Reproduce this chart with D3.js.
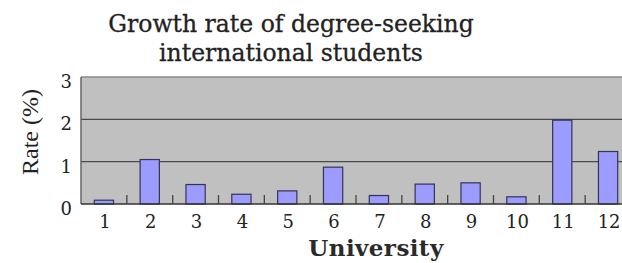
<!DOCTYPE html>
<html>
<head>
<meta charset="utf-8">
<script src="https://cdnjs.cloudflare.com/ajax/libs/d3/7.8.5/d3.min.js"></script>
<style>
  body { margin: 0; background: #fff; }
  svg { display: block; }
</style>
</head>
<body>
<div id="chart"></div>
<script>
// data
var universities = ["1", "2", "3", "4", "5", "6", "7", "8", "9", "10", "11", "12"]
var rates = [0.09, 1.05, 0.46, 0.23, 0.31, 0.87, 0.20, 0.47, 0.50, 0.17, 1.98, 1.24]
var yTicks = [0, 1, 2, 3]

var W = 622, H = 263
// plot area (the right side runs past the window edge, as in the picture)
var mLeft = 81, mTop = 77, plotW = 550, plotH = 127

var svg = d3.select("#chart").append("svg")
  .attr("width", W).attr("height", H)

var xScale = d3.scaleBand().domain(universities).range([mLeft, mLeft + plotW])
var yScale = d3.scaleLinear().domain([0, 3]).range([mTop + plotH, mTop])

// gray background
svg.append("rect")
  .attr("x", mLeft).attr("y", mTop)
  .attr("width", plotW).attr("height", plotH)
  .attr("fill", "#c0c0c0")

// grid lines at 1 and 2, lighter line on top
svg.append("g").selectAll("line").data(yTicks.slice(1)).enter().append("line")
  .attr("x1", mLeft).attr("x2", mLeft + plotW)
  .attr("y1", d => yScale(d)).attr("y2", d => yScale(d))
  .attr("stroke", d => d === 3 ? "#8a8a8a" : "#4a4a4a")
  .attr("stroke-width", d => d === 3 ? 1.5 : 1.3)

// bars
var barW = xScale.bandwidth() * 0.42
svg.append("g").selectAll("rect").data(rates).enter().append("rect")
  .attr("x", (d, i) => xScale(universities[i]) + (xScale.bandwidth() - barW) / 2)
  .attr("y", d => yScale(d))
  .attr("width", barW)
  .attr("height", d => yScale(0) - yScale(d))
  .attr("fill", "#9c9cff")
  .attr("stroke", "#333355")
  .attr("stroke-width", 1.2)

// left axis line
svg.append("line")
  .attr("x1", mLeft).attr("x2", mLeft)
  .attr("y1", mTop).attr("y2", mTop + plotH)
  .attr("stroke", "#666").attr("stroke-width", 1.5)

// bottom axis: line plus small ticks between categories, pointing up
var xAxis = svg.append("g")
  .attr("transform", "translate(0," + (mTop + plotH) + ")")
xAxis.append("line")
  .attr("x1", mLeft).attr("x2", mLeft + plotW)
  .attr("stroke", "#333").attr("stroke-width", 1.5)
xAxis.selectAll(".tk").data(universities.slice(1)).enter().append("line")
  .attr("class", "tk")
  .attr("x1", d => xScale(d)).attr("x2", d => xScale(d))
  .attr("y1", 0).attr("y2", -9)
  .attr("stroke", "#444").attr("stroke-width", 1.3)
xAxis.selectAll("text").data(universities).enter().append("text")
  .attr("x", d => xScale(d) + xScale.bandwidth() / 2 + 1)
  .attr("y", 24)
  .attr("text-anchor", "middle")
  .attr("font-family", "DejaVu Serif")
  .attr("font-size", 18)
  .attr("fill", "#222")
  .text(d => d)

// y tick labels, sitting a little below their grid lines
svg.append("g").selectAll("text").data(yTicks).enter().append("text")
  .attr("x", 72)
  .attr("y", d => yScale(d) + 11)
  .attr("text-anchor", "end")
  .attr("font-family", "DejaVu Serif")
  .attr("font-size", 18)
  .attr("fill", "#222")
  .text(d => d)

// axis titles
svg.append("text")
  .attr("transform", "translate(38,132) rotate(-90)")
  .attr("text-anchor", "middle")
  .attr("font-family", "Liberation Serif")
  .attr("font-size", 24)
  .attr("fill", "#222")
  .text("Rate (%)")

svg.append("text")
  .attr("x", 376).attr("y", 256)
  .attr("text-anchor", "middle")
  .attr("font-family", "DejaVu Serif")
  .attr("font-weight", "bold")
  .attr("font-size", 23)
  .attr("letter-spacing", 0.4)
  .attr("fill", "#2a2a2a")
  .text("University")

// chart title, two lines
var titleLines = ["Growth rate of degree-seeking", "international students"]
svg.append("g").selectAll("text").data(titleLines).enter().append("text")
  .attr("x", 291).attr("y", (d, i) => 32 + i * 29)
  .attr("text-anchor", "middle")
  .attr("font-family", "DejaVu Serif")
  .attr("font-size", 23.5)
  .attr("fill", "#222")
  .attr("stroke", "#222").attr("stroke-width", 0.3)
  .text(d => d)
</script>
</body>
</html>
